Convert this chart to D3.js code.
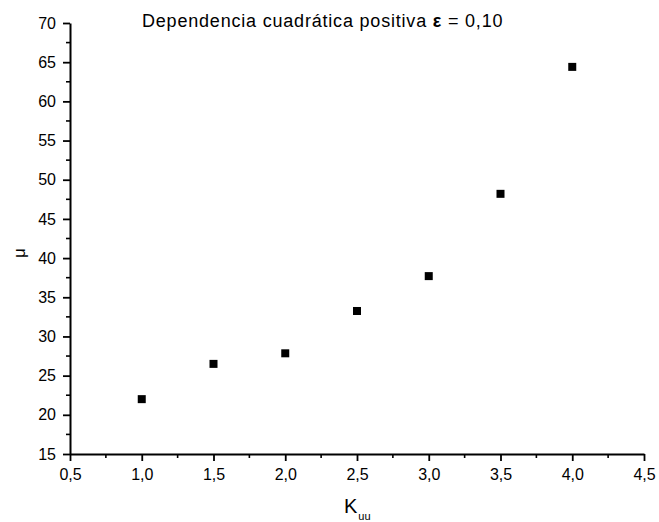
<!DOCTYPE html>
<html>
<head>
<meta charset="utf-8">
<script src="https://cdn.jsdelivr.net/npm/d3@7"></script>
<style>
  html, body { margin: 0; padding: 0; background: #fff; }
  text { font-family: "Liberation Sans", Arial, Helvetica, sans-serif; fill: #000; }
</style>
</head>
<body>
<svg id="chart" width="659" height="522"></svg>
<script>
// Kuu values and the corresponding mu values
const kuu = [1.0, 1.5, 2.0, 2.5, 3.0, 3.5, 4.0];
const mu = [22.0, 26.5, 27.85, 33.25, 37.7, 48.2, 64.4];

const xTicks = [0.5, 1.0, 1.5, 2.0, 2.5, 3.0, 3.5, 4.0, 4.5];
const yTicks = [15, 20, 25, 30, 35, 40, 45, 50, 55, 60, 65, 70];
const xMinor = [0.75, 1.25, 1.75, 2.25, 2.75, 3.25, 3.75, 4.25];
const yMinor = [17.5, 22.5, 27.5, 32.5, 37.5, 42.5, 47.5, 52.5, 57.5, 62.5, 67.5];

const svg = d3.select("#chart");
const plot = { left: 70, right: 644, top: 23, bottom: 454 };

const x = d3.scaleLinear().domain([0.5, 4.5]).range([plot.left, plot.right]);
const y = d3.scaleLinear().domain([15, 70]).range([plot.bottom, plot.top]);

const fmt = d => d3.format(".1f")(d).replace(".", ",");

// x axis
const gx = svg.append("g").attr("transform", `translate(0,${plot.bottom})`)
  .call(d3.axisBottom(x).tickValues(xTicks).tickFormat(fmt).tickSize(7).tickSizeOuter(0).tickPadding(5));
gx.selectAll(".tick text").attr("font-size", 16).attr("dy", "0.875em");
gx.append("g").selectAll("line").data(xMinor).join("line")
  .attr("x1", d => x(d)).attr("x2", d => x(d)).attr("y1", 0).attr("y2", 4)
  .attr("stroke", "#000").attr("stroke-width", 1.6);

// y axis
const gy = svg.append("g").attr("transform", `translate(${plot.left},0)`)
  .call(d3.axisLeft(y).tickValues(yTicks).tickFormat(d3.format("d")).tickSize(7).tickSizeOuter(0).tickPadding(7));
gy.selectAll(".tick text").attr("font-size", 16);
gy.append("g").selectAll("line").data(yMinor).join("line")
  .attr("y1", d => y(d)).attr("y2", d => y(d)).attr("x1", 0).attr("x2", -4)
  .attr("stroke", "#000").attr("stroke-width", 1.6);

svg.selectAll(".domain").attr("stroke", "#000").attr("stroke-width", 2);
svg.selectAll(".tick line").attr("stroke", "#000").attr("stroke-width", 1.8);

// data points as filled squares
const s = 8;
svg.append("g").selectAll("rect").data(kuu).join("rect")
  .attr("x", (d) => x(d) - s / 2)
  .attr("y", (d, i) => y(mu[i]) - s / 2)
  .attr("width", s).attr("height", s)
  .attr("fill", "#000");

// title
const title = svg.append("text").attr("x", 142).attr("y", 27)
  .attr("font-size", 18).attr("letter-spacing", 0.8);
title.append("tspan").text("Dependencia cuadrática positiva ");
title.append("tspan").attr("font-weight", "bold").text("ε");
title.append("tspan").text(" = 0,10");

// axis labels
const xl = svg.append("text").attr("x", 344).attr("y", 513).attr("font-size", 20);
xl.append("tspan").text("K");
xl.append("tspan").attr("font-size", 11).attr("dy", 7).attr("dx", 1).text("uu");

svg.append("text").attr("transform", "translate(25,253) rotate(-90)")
  .attr("text-anchor", "middle").attr("font-size", 17).text("μ");
</script>
</body>
</html>
